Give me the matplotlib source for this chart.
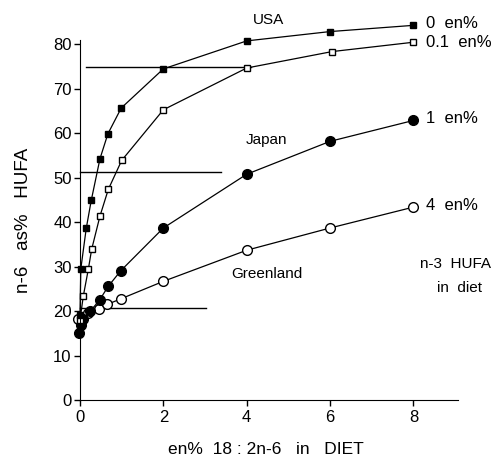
import matplotlib
matplotlib.use("Agg")
import matplotlib.pyplot as plt

# n-3 HUFA in diet: 0 en% (filled squares, USA)
x0 = [0.0, 0.02, 0.15, 0.27, 0.48, 0.67, 0.99, 2.0, 4.0, 6.0, 8.0]
y0 = [19.2, 29.5, 38.6, 44.9, 54.3, 59.9, 65.7, 74.5, 80.8, 82.9, 84.3]

# 0.1 en% (open squares)
x01 = [0.0, 0.08, 0.2, 0.28, 0.48, 0.68, 1.0, 2.0, 4.0, 6.05, 8.0]
y01 = [18.0, 23.4, 29.4, 33.9, 41.4, 47.4, 53.9, 65.3, 74.7, 78.4, 80.5]

# 1 en% (filled circles, Japan)
x1 = [-0.03, 0.03, 0.08, 0.25, 0.47, 0.68, 0.98, 2.0, 4.0, 6.0, 8.0]
y1 = [15.1, 16.9, 18.3, 20.0, 22.5, 25.6, 29.1, 38.7, 50.8, 58.2, 62.9]

# 4 en% (open circles, Greenland)
x4 = [-0.05, 0.2, 0.45, 0.65, 0.99, 2.0, 4.0, 6.0, 8.0]
y4 = [18.2, 19.6, 20.4, 21.5, 22.8, 26.7, 33.7, 38.7, 43.4]

# reference levels (horizontal lines): y, x start, x end
ref_y = [75.0, 51.2, 20.8]
ref_x0 = [0.15, 0.0, 0.0]
ref_x1 = [4.1, 3.38, 3.03]

series_labels = ["0  en%", "0.1  en%", "1  en%", "4  en%"]
label_y = [84.7, 80.5, 63.4, 43.8]

plt.rcParams["font.family"] = ["Liberation Sans", "DejaVu Sans"]

fig = plt.figure(figsize=(4.98, 4.61), dpi=100)
ax = fig.add_axes([0.1606, 0.1323, 0.7591, 0.7809])

for y, xa, xb in zip(ref_y, ref_x0, ref_x1):
    ax.plot([xa, xb], [y, y], color="black", linewidth=1.0, clip_on=False)

ax.plot(x4, y4, color="black", linewidth=0.9, marker="o", markersize=7,
        markerfacecolor="white", markeredgecolor="black", markeredgewidth=1.0, clip_on=False)
ax.plot(x1, y1, color="black", linewidth=0.9, marker="o", markersize=7,
        markerfacecolor="black", markeredgecolor="black", clip_on=False)
ax.plot(x01, y01, color="black", linewidth=0.9, marker="s", markersize=5,
        markerfacecolor="white", markeredgecolor="black", markeredgewidth=1.0, clip_on=False)
ax.plot(x0, y0, color="black", linewidth=0.9, marker="s", markersize=5,
        markerfacecolor="black", markeredgecolor="black", clip_on=False)

ax.set_xlim(0, 9.07)
ax.set_ylim(0, 81)
ax.set_xticks([0, 2, 4, 6, 8])
ax.set_yticks(range(0, 90, 10))
ax.spines["top"].set_visible(False)
ax.spines["right"].set_visible(False)
ax.tick_params(direction="out", length=4, width=1, labelsize=12, pad=2)
ax.tick_params(axis="x", pad=3)

ax.set_xlabel("en%  18 : 2n-6   in   DIET", fontsize=12.5)
ax.xaxis.set_label_coords(0.493, -0.118)
ax.set_ylabel("n-6   as%   HUFA", fontsize=13.5)
ax.yaxis.set_label_coords(-0.128, 0.5)

# series labels at right end
for lab, yl in zip(series_labels, label_y):
    ax.text(8.3, yl, lab, fontsize=12, va="center", ha="left", clip_on=False)

ax.text(4.52, 85.4, "USA", fontsize=11, ha="center", va="center", clip_on=False)
ax.text(4.47, 58.4, "Japan", fontsize=11, ha="center", va="center")
ax.text(4.48, 28.4, "Greenland", fontsize=11, ha="center", va="center")
ax.text(9.02, 30.7, "n-3  HUFA", fontsize=11, ha="center", va="center", clip_on=False)
ax.text(9.1, 25.2, "in  diet", fontsize=11, ha="center", va="center", clip_on=False)

fig.savefig("out.png", dpi=100, facecolor="white")
